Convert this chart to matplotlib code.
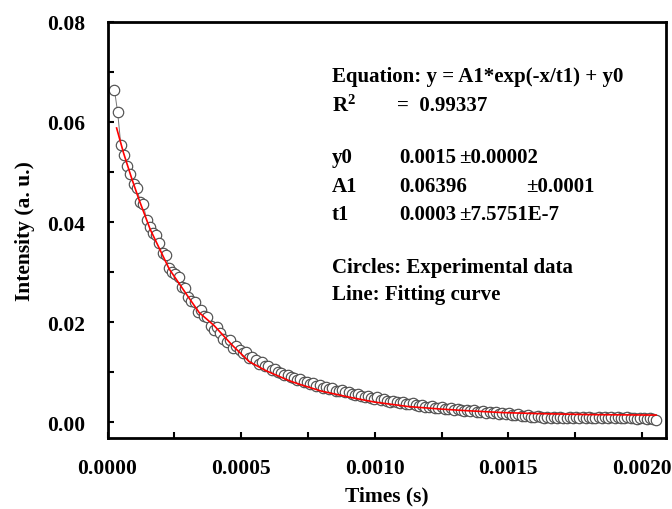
import numpy as np
import matplotlib.pyplot as plt

# experimental data: time in microseconds, intensity in a.u.
time_us = [
    26, 38, 50, 62, 74, 86, 98, 110, 122, 134,
    146, 158, 170, 182, 194, 206, 218, 230, 242, 254,
    266, 278, 290, 302, 314, 326, 338, 350, 362, 374,
    386, 398, 410, 422, 434, 446, 458, 470, 482, 494,
    506, 518, 530, 542, 554, 566, 578, 590, 602, 614,
    626, 638, 650, 662, 674, 686, 698, 710, 722, 734,
    746, 758, 770, 782, 794, 806, 818, 830, 842, 854,
    866, 878, 890, 902, 914, 926, 938, 950, 962, 974,
    986, 998, 1010, 1022, 1034, 1046, 1058, 1070, 1082, 1094,
    1106, 1118, 1130, 1142, 1154, 1166, 1178, 1190, 1202, 1214,
    1226, 1238, 1250, 1262, 1274, 1286, 1298, 1310, 1322, 1334,
    1346, 1358, 1370, 1382, 1394, 1406, 1418, 1430, 1442, 1454,
    1466, 1478, 1490, 1502, 1514, 1526, 1538, 1550, 1562, 1574,
    1586, 1598, 1610, 1622, 1634, 1646, 1658, 1670, 1682, 1694,
    1706, 1718, 1730, 1742, 1754, 1766, 1778, 1790, 1802, 1814,
    1826, 1838, 1850, 1862, 1874, 1886, 1898, 1910, 1922, 1934,
    1946, 1958, 1970, 1982, 1994, 2006, 2018, 2030, 2042, 2054,
]
intensity = [
    0.0664, 0.0619, 0.0553, 0.0534, 0.0512, 0.0497, 0.0476, 0.0468, 0.0441, 0.0436,
    0.0404, 0.0390, 0.0379, 0.0374, 0.0358, 0.0339, 0.0335, 0.0309, 0.0301, 0.0296,
    0.0290, 0.0270, 0.0268, 0.0250, 0.0243, 0.0241, 0.0221, 0.0224, 0.0212, 0.0211,
    0.0192, 0.0185, 0.0190, 0.0178, 0.0166, 0.0161, 0.0165, 0.0149, 0.0153, 0.0144,
    0.0138, 0.0141, 0.0128, 0.0130, 0.0124, 0.0117, 0.0121, 0.0113, 0.0112, 0.0105,
    0.0107, 0.0101, 0.0099, 0.0094, 0.0095, 0.0090, 0.0088, 0.0084, 0.0086, 0.0081,
    0.0080, 0.0076, 0.0078, 0.0073, 0.0074, 0.0069, 0.0070, 0.0066, 0.0068, 0.0063,
    0.0062, 0.0064, 0.0060, 0.0061, 0.0057, 0.0055, 0.0057, 0.0052, 0.0050, 0.0052,
    0.0049, 0.0047, 0.0050, 0.0045, 0.0046, 0.0043, 0.0041, 0.0043, 0.0040, 0.0039,
    0.0041, 0.0037, 0.0036, 0.0038, 0.0034, 0.0033, 0.0035, 0.0031, 0.0030, 0.0032,
    0.0029, 0.0028, 0.0030, 0.0027, 0.0026, 0.0028, 0.0025, 0.0027, 0.0024, 0.0023,
    0.0025, 0.0022, 0.0024, 0.0021, 0.0020, 0.0023, 0.0019, 0.0021, 0.0018, 0.0020,
    0.0017, 0.0019, 0.0016, 0.0018, 0.0015, 0.0014, 0.0016, 0.0013, 0.0012, 0.0014,
    0.0011, 0.0010, 0.0012, 0.0010, 0.0009, 0.0011, 0.0009, 0.0010, 0.0008, 0.0011,
    0.0009, 0.0008, 0.0010, 0.0009, 0.0011, 0.0008, 0.0010, 0.0009, 0.0011, 0.0008,
    0.0009, 0.0011, 0.0008, 0.0010, 0.0009, 0.0011, 0.0008, 0.0010, 0.0009, 0.0008,
    0.0010, 0.0008, 0.0009, 0.0007, 0.0009, 0.0008, 0.0007, 0.0008, 0.0006, 0.0005,
]

# fitted curve
fit_us = [34, 60, 90, 117, 160, 231, 300, 343, 399, 468, 530, 592,
          679, 716, 800, 903, 1000, 1127, 1250, 1338, 1480, 1612, 1800, 2053]
fit_val = [0.0588, 0.0538, 0.0488, 0.0446, 0.0385, 0.0306, 0.0252, 0.0219,
           0.0193, 0.0153, 0.0121, 0.0103, 0.0083, 0.0076, 0.0062, 0.0050,
           0.0040, 0.0031, 0.0026, 0.0023, 0.0019, 0.0017, 0.0015, 0.0014]

x_ticks = [0.0, 0.0005, 0.0010, 0.0015, 0.0020]
y_ticks = [0.00, 0.02, 0.04, 0.06, 0.08]

plt.rcParams['font.family'] = ['Liberation Serif', 'DejaVu Serif']
plt.rcParams['font.weight'] = 'bold'
plt.rcParams['mathtext.fontset'] = 'custom'
plt.rcParams['mathtext.bf'] = 'Liberation Serif:bold'
plt.rcParams['mathtext.rm'] = 'Liberation Serif:bold'

fig = plt.figure(figsize=(6.72, 5.10), dpi=100)
ax = fig.add_axes([0.16, 0.139, 0.831, 0.816])

t = np.array(time_us) * 1e-6
ax.plot(t, intensity, '-o', color='#777777', lw=0.7, ms=7.5,
        mfc='white', mec='#505050', mew=0.85, zorder=2)
ax.plot(np.array(fit_us) * 1e-6, fit_val, color='red', lw=1.2, zorder=3)

ax.set_xlim(0, 0.00209)
ax.set_ylim(-0.0032, 0.08)
ax.set_xticks(x_ticks)
ax.set_xticklabels([f'{v:.4f}' for v in x_ticks])
ax.set_yticks(y_ticks)
ax.set_yticklabels([f'{v:.2f}' for v in y_ticks])
ax.set_xticks([0.00025, 0.00075, 0.00125, 0.00175], minor=True)
ax.set_yticks([0.01, 0.03, 0.05, 0.07], minor=True)

for s in ax.spines.values():
    s.set_linewidth(2)
ax.tick_params(which='both', direction='in', length=4, width=1.5,
               labelsize=15.5, top=False, right=False)
ax.tick_params(axis='x', pad=14)
ax.tick_params(axis='y', pad=16)

ax.set_xlabel('Times (s)', fontsize=15.5, fontweight='bold', va='bottom')
ax.xaxis.set_label_coords(0.5, -0.163)
ax.set_ylabel('Intensity (a. u.)', fontsize=15.5, fontweight='bold', labelpad=9)

fs = 15
tx = ax.transAxes
ax.text(0.402, 0.870, 'Equation: y = A1*exp(-x/t1) + y0', transform=tx, fontsize=fs, va='center')
ax.text(0.402, 0.800, r'$\mathbf{R^2}$', transform=tx, fontsize=fs, va='center')
ax.text(0.518, 0.800, '=  0.99337', transform=tx, fontsize=fs, va='center')
ax.text(0.402, 0.675, 'y0', transform=tx, fontsize=fs, va='center')
ax.text(0.522, 0.675, '0.0015', transform=tx, fontsize=fs, va='center')
ax.text(0.629, 0.675, '\u00b10.00002', transform=tx, fontsize=fs, va='center')
ax.text(0.402, 0.606, 'A1', transform=tx, fontsize=fs, va='center')
ax.text(0.522, 0.606, '0.06396', transform=tx, fontsize=fs, va='center')
ax.text(0.750, 0.606, '\u00b10.0001', transform=tx, fontsize=fs, va='center')
ax.text(0.402, 0.538, 't1', transform=tx, fontsize=fs, va='center')
ax.text(0.522, 0.538, '0.0003', transform=tx, fontsize=fs, va='center')
ax.text(0.629, 0.538, '\u00b17.5751E-7', transform=tx, fontsize=fs, va='center')
ax.text(0.402, 0.411, 'Circles: Experimental data', transform=tx, fontsize=fs, va='center')
ax.text(0.402, 0.346, 'Line: Fitting curve', transform=tx, fontsize=fs, va='center')

fig.savefig('out.png', dpi=100)
